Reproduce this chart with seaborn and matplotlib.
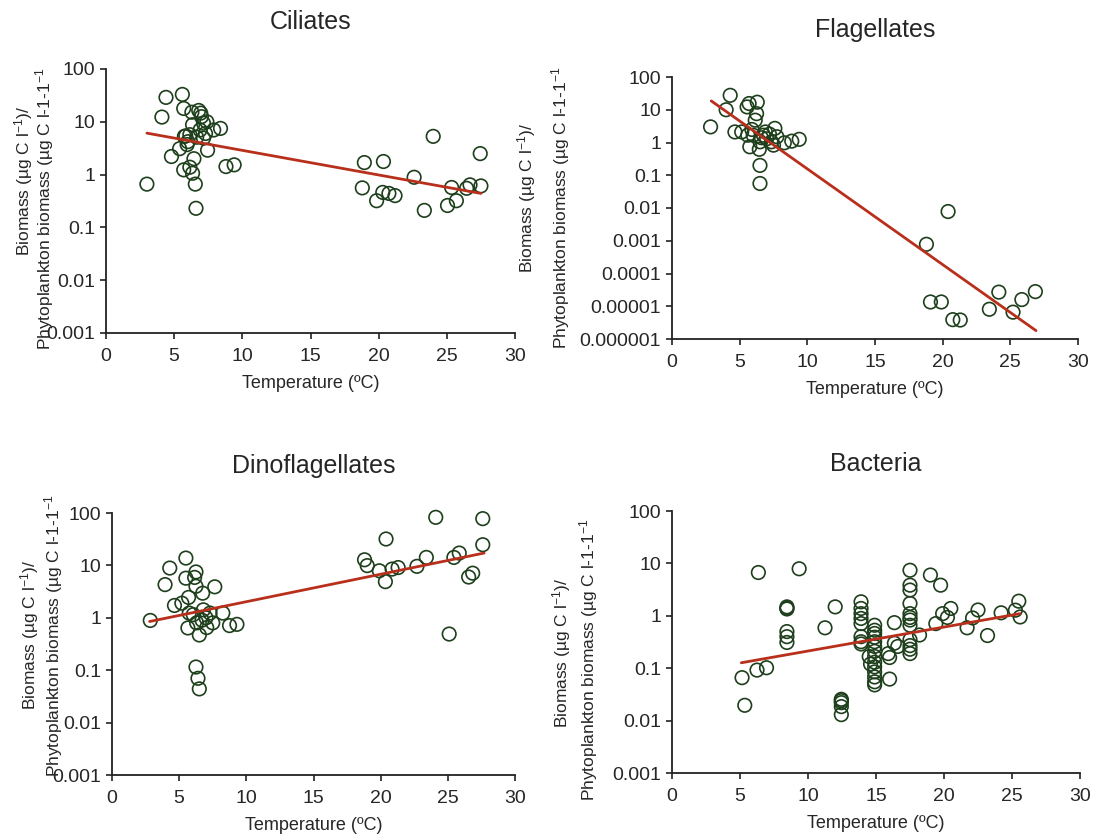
import matplotlib
matplotlib.use("Agg")
import matplotlib.pyplot as plt
import seaborn as sns
import pandas as pd
import numpy as np
from matplotlib.ticker import FixedLocator, FixedFormatter, NullLocator

# ---------------- data ----------------
titles = ["Ciliates", "Flagellates", "Dinoflagellates", "Bacteria"]

cil_t = [3.0, 4.1, 4.4, 5.6, 5.7, 4.8, 5.4, 5.75, 5.95, 6.3, 6.8, 6.95, 6.35, 6.15, 6.65,
         7.15, 7.4, 7.45, 7.9, 8.4, 5.7, 6.15, 6.35, 6.45, 6.55, 6.6, 8.8, 9.4, 6.9, 7.15,
         5.85, 6.0, 7.0, 7.3,
         18.95, 18.8, 19.85, 20.35, 20.3, 20.75, 21.2, 22.6, 23.35, 24.0, 25.05, 25.7,
         25.35, 26.45, 26.7, 27.5, 27.45]
cil_v = [0.66, 12.3, 29, 33, 17.9, 2.2, 3.1, 5.3, 3.7, 15.2, 16.4, 14.6, 8.8, 5.7, 5.1,
         4.9, 10, 2.9, 7.0, 7.5, 1.23, 1.38, 1.06, 2.0, 0.66, 0.23, 1.42, 1.53, 7.0, 9.4,
         5.4, 4.2, 12.5, 6.0,
         1.69, 0.56, 0.32, 1.77, 0.46, 0.44, 0.40, 0.89, 0.21, 5.3, 0.26, 0.32,
         0.57, 0.55, 0.64, 0.61, 2.5]
cil_fit_t = [3.0, 27.5]
cil_fit_v = [6.1, 0.44]

fla_t = [2.85, 4.0, 4.3, 5.55, 5.7, 6.3, 6.25, 6.15, 4.65, 5.15, 5.6, 5.75, 6.45, 6.5, 6.5,
         6.75, 7.0, 7.35, 7.6, 7.75, 7.5, 8.3, 8.85, 9.4, 6.0, 6.9, 6.5, 5.9, 7.2, 6.6,
         18.8, 20.4, 19.1, 19.9, 20.75, 21.3, 23.45, 24.15, 25.2, 25.85, 26.85]
fla_v = [3.0, 10, 27.6, 12.2, 15.5, 17, 7.6, 4.8, 2.1, 2.1, 1.67, 0.74, 0.62, 0.2, 0.056,
         1.67, 1.3, 1.05, 2.7, 1.5, 0.83, 0.98, 1.1, 1.25, 1.67, 2.1, 1.05, 2.5, 1.8, 1.4,
         7.8e-4, 7.8e-3, 1.35e-5, 1.35e-5, 3.9e-6, 3.8e-6, 8.1e-6, 2.7e-5, 6.6e-6, 1.6e-5, 2.8e-5]
fla_fit_t = [2.9, 26.9]
fla_fit_v = [18.6, 1.8e-6]

din_t = [2.85, 3.95, 4.3, 5.5, 4.65, 5.2, 5.7, 5.5, 6.25, 6.15, 6.25, 6.75, 7.65, 5.75, 6.05,
         5.65, 6.5, 6.8, 7.0, 7.3, 7.05, 7.5, 8.25, 8.75, 9.3, 6.3, 6.7, 6.25, 6.4, 6.5,
         18.8, 19.0, 19.9, 20.35, 20.4, 20.85, 21.3, 22.7, 23.4, 24.1, 25.1, 25.45, 25.85,
         26.55, 26.85, 27.6, 27.6]
din_v = [0.89, 4.3, 8.9, 13.8, 1.72, 1.9, 2.45, 5.7, 7.5, 5.9, 4.0, 2.95, 3.9, 1.23, 1.15,
         0.64, 0.47, 1.42, 1.0, 1.23, 0.65, 0.8, 1.23, 0.71, 0.75, 0.8, 0.9, 0.115, 0.07, 0.044,
         12.8, 9.9, 7.9, 4.9, 31.9, 8.5, 9.1, 9.6, 14.2, 82.7, 0.49, 14.2, 17.2,
         6.0, 7.1, 78, 24.8]
din_fit_t = [2.8, 27.7]
din_fit_v = [0.85, 17.2]

bac_t = [5.15, 5.35, 6.35, 6.25, 6.95, 9.35, 8.45, 8.45, 8.45, 8.45, 8.45, 8.45, 11.25, 12.0,
         12.45, 12.45, 12.45, 12.45, 12.45,
         13.9, 13.9, 13.9, 13.9, 13.9, 13.9, 13.9, 13.9,
         14.9, 14.9, 14.9, 14.9, 14.9, 14.9, 14.9, 14.9, 14.9, 14.9, 14.9, 14.9, 14.9, 14.9,
         14.5, 14.6,
         17.5, 17.5, 17.5, 17.5, 17.5, 17.5, 17.5, 17.5, 17.5, 17.5, 17.5, 17.5,
         15.9, 16.0, 16.0, 16.35, 16.35, 16.6, 18.2, 19.0, 19.75, 19.4, 19.9, 20.25, 20.5,
         21.7, 22.1, 22.5, 23.2, 24.2, 25.25, 25.5, 25.6]
bac_v = [0.066, 0.0196, 6.7, 0.092, 0.102, 7.9, 1.48, 1.35, 1.4, 0.50, 0.40, 0.31, 0.59, 1.48,
         0.0255, 0.022, 0.0185, 0.013, 0.024,
         1.85, 1.38, 1.1, 0.89, 0.71, 0.40, 0.32, 0.29,
         0.66, 0.53, 0.46, 0.39, 0.32, 0.26, 0.21, 0.167, 0.13, 0.106, 0.085, 0.068, 0.055, 0.048,
         0.167, 0.12,
         7.4, 3.84, 3.1, 1.72, 1.1, 0.93, 0.83, 0.66, 0.35, 0.27, 0.23, 0.19,
         0.19, 0.16, 0.062, 0.74, 0.30, 0.26, 0.43, 6.0, 3.84, 0.71, 1.1, 0.93, 1.38,
         0.59, 0.91, 1.29, 0.42, 1.14, 1.28, 1.9, 0.95]
bac_fit_t = [5.1, 25.6]
bac_fit_v = [0.127, 1.1]

xticks = [0, 5, 10, 15, 20, 25, 30]
yticks_std = [100, 10, 1, 0.1, 0.01, 0.001]
ylabels_std = ["100", "10", "1", "0.1", "0.01", "0.001"]
yticks_fla = [100, 10, 1, 0.1, 0.01, 0.001, 0.0001, 0.00001, 0.000001]
ylabels_fla = ["100", "10", "1", "0.1", "0.01", "0.001", "0.0001", "0.00001", "0.000001"]

xlabel = "Temperature (ºC)"
ylab1 = "Biomass (µg C l$^{-1}$)/"
ylab2 = "Phytoplankton biomass (µg C l-1-1$^{-1}$"

# ---------------- style ----------------
sns.set_style("white")
plt.rcParams["font.family"] = ["Liberation Sans", "DejaVu Sans"]
plt.rcParams["mathtext.fontset"] = "custom"
plt.rcParams["mathtext.rm"] = "Liberation Sans"
plt.rcParams["mathtext.it"] = "Liberation Sans"
plt.rcParams["mathtext.default"] = "regular"

W, H = 1106, 836
fig = plt.figure(figsize=(W / 100, H / 100), dpi=100)
fig.patch.set_facecolor("white")

green = "#1e3f1c"
red = "#b8301c"

# axes boxes in pixels: left, right, top, bottom
boxes = [(106, 515, 69, 333), (672, 1078, 77, 339), (112, 515, 513, 775), (672, 1080, 511, 773)]
panels = [
    (cil_t, cil_v, cil_fit_t, cil_fit_v, yticks_std, ylabels_std),
    (fla_t, fla_v, fla_fit_t, fla_fit_v, yticks_fla, ylabels_fla),
    (din_t, din_v, din_fit_t, din_fit_v, yticks_std, ylabels_std),
    (bac_t, bac_v, bac_fit_t, bac_fit_v, yticks_std, ylabels_std),
]
# y-label positions (pixels): (x1, y1center, x2, y2center)
ylab_pos = [(24, 181, 45, 209), (527, 198, 561, 208), (30, 635, 54, 636), (562, 653, 589, 660)]

for i, (box, (t, v, ft, fv, yt, yl)) in enumerate(zip(boxes, panels)):
    l, r, tp, b = box
    ax = fig.add_axes([l / W, 1 - b / H, (r - l) / W, (b - tp) / H])
    df = pd.DataFrame({"T": t, "B": v})
    sns.scatterplot(data=df, x="T", y="B", ax=ax, marker="o", s=95,
                    facecolors="none", edgecolor=green, linewidth=1.2, zorder=3,
                    clip_on=False)
    fdf = pd.DataFrame({"T": ft, "B": fv})
    sns.lineplot(data=fdf, x="T", y="B", ax=ax, color=red, linewidth=2.0, zorder=4)
    ax.set_yscale("log")
    ax.set_xlim(0, 30)
    ax.set_ylim(min(yt), max(yt))
    ax.xaxis.set_major_locator(FixedLocator(xticks))
    ax.yaxis.set_major_locator(FixedLocator(yt))
    ax.yaxis.set_major_formatter(FixedFormatter(yl))
    ax.yaxis.set_minor_locator(NullLocator())
    ax.set_xlabel(xlabel, fontsize=13, labelpad=7)
    ax.set_ylabel("")
    ax.set_title(titles[i], fontsize=18, pad=29)
    for s in ["top", "right"]:
        ax.spines[s].set_visible(False)
    for s in ["left", "bottom"]:
        ax.spines[s].set_color("#222222")
        ax.spines[s].set_linewidth(1.3)
    ax.tick_params(axis="both", direction="out", length=4, width=1.2, color="#222222",
                   labelsize=14, pad=4, left=True, bottom=True)
    ax.tick_params(axis="x", pad=7)
    ax.set_facecolor("white")
    x1, y1, x2, y2 = ylab_pos[i]
    fig.text(x1 / W, 1 - y1 / H, ylab1, rotation=90, ha="center", va="center", fontsize=12.5)
    fig.text(x2 / W, 1 - y2 / H, ylab2, rotation=90, ha="center", va="center", fontsize=12.5)

fig.savefig("out.png", dpi=100, facecolor="white")
